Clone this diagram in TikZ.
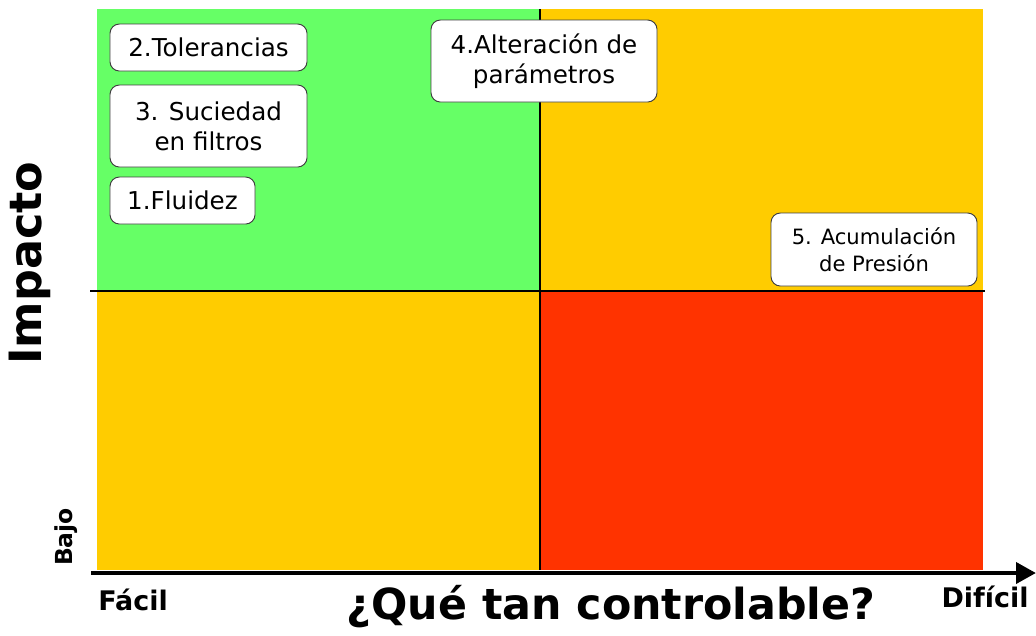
\documentclass[tikz,border=0pt]{standalone}
\usepackage{fontspec}
\setmainfont{DejaVu Sans}
\usetikzlibrary{arrows.meta,positioning}
\definecolor{facilgreen}{HTML}{66FF66}
\definecolor{midyellow}{HTML}{FFCC00}
\definecolor{hardred}{HTML}{FF3300}
\tikzset{
  quad/.style={draw=none, inner sep=0pt, anchor=north west},
  cause/.style={draw=black!75, line width=0.8pt, fill=white, rounded corners=8pt, align=center,
                inner sep=2pt, font=\fontsize{21}{25.5}\selectfont},
  divider/.style={black, line width=1.2pt},
  axis/.style={-{Triangle[length=0.6cm,width=0.62cm]}, line width=4pt},
  axlbl/.style={font=\bfseries\fontsize{23}{26}\selectfont}
}

\begin{document}
\begin{tikzpicture}[x=0.03cm,y=-0.03cm]
  \useasboundingbox (0,0) rectangle (1036,635);
  \node[quad,fill=facilgreen,minimum width=13.29cm,minimum height=8.46cm] (q1) at (97,9) {};
  \node[quad,fill=midyellow,minimum width=13.29cm,minimum height=8.46cm] (q2) at (540,9) {};
  \node[quad,fill=midyellow,minimum width=13.29cm,minimum height=8.37cm] (q3) at (97,291) {};
  \node[quad,fill=hardred,minimum width=13.29cm,minimum height=8.37cm] (q4) at (540,291) {};
  \coordinate (hl) at (90,291);
  \coordinate (hr) at (985,291);
  \draw[divider] (hl) -- (hr);
  \draw[divider] (q2.north west) -- (q4.south west);
  \coordinate (ax0) at (91,573);
  \coordinate (ax1) at (1036,573);
  \draw[axis] (ax0) -- (ax1);
  \node[cause,minimum width=5.91cm,minimum height=1.41cm] (tol) at (208.5,47.5) {2.Tolerancias};
  \node[cause,minimum width=5.91cm,minimum height=2.46cm] (suc) at (208.5,126) {3. Suciedad\\ en filtros};
  \node[cause,minimum width=4.35cm,minimum height=1.41cm] (flu) at (182.5,200.5) {1.Fluidez};
  \node[cause,minimum width=6.78cm,minimum height=2.46cm] (alt) at (544,61) {4.Alteración de\\ parámetros};
  \node[cause,minimum width=6.18cm,minimum height=2.19cm,font=\fontsize{18}{23.5}\selectfont] (acu) at (874,249.5) {5. Acumulación\\ de Presión};
  \node[rotate=90,font=\bfseries\fontsize{38}{40}\selectfont] (imp) at (30,263) {Impacto};
  \node[rotate=90,font=\bfseries\fontsize{20}{22}\selectfont] (bajo) at (66,537) {Bajo};
  \node[axlbl] (facil) at (133,600) {Fácil};
  \node[axlbl] (dificil) at (985,597) {Difícil};
  \node[font=\bfseries\fontsize{36.5}{40}\selectfont] (ctrl) at (611,607) {¿Qué tan controlable?};
\end{tikzpicture}
\end{document}
